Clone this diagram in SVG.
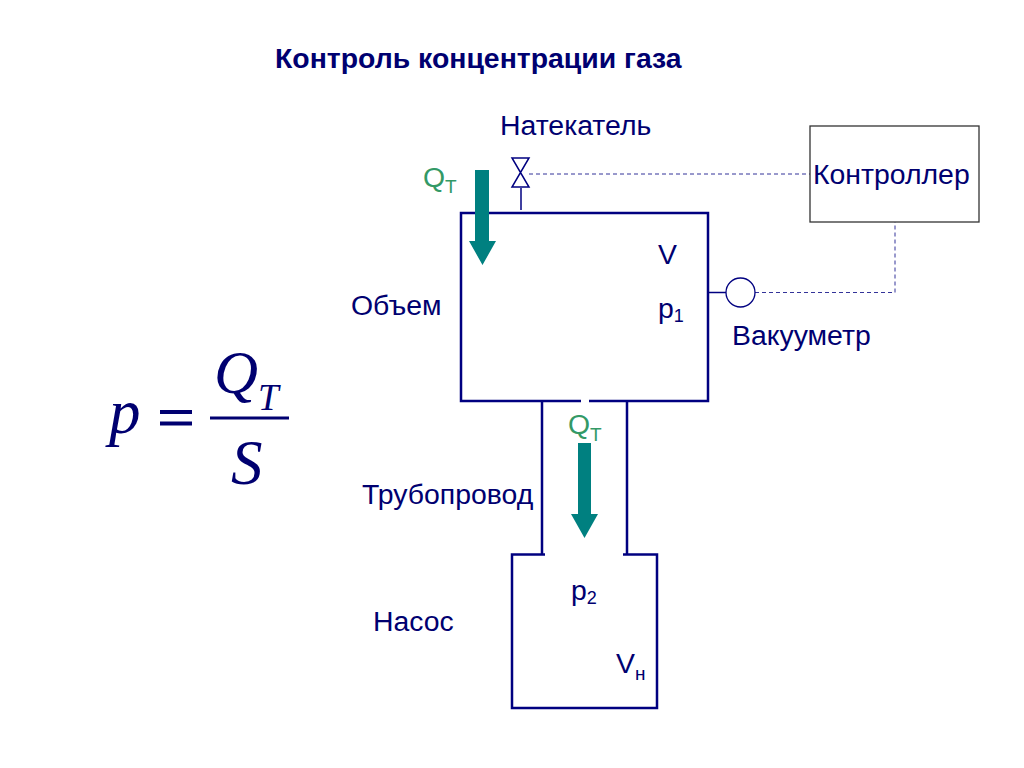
<svg xmlns="http://www.w3.org/2000/svg" width="1024" height="768" viewBox="0 0 1024 768">
<style>
text{font-family:"Liberation Sans",Arial,sans-serif;fill:#000070;font-size:28.4px}
.g{fill:#339966}
.s{font-size:18px}
.q{font-size:19px}
.m{font-family:"Liberation Serif","Times New Roman",serif;font-style:italic}
.w{fill:none;stroke:#000080;stroke-width:2.5}
.t{fill:none;stroke:#000080;stroke-width:1.5}
.d{fill:none;stroke:#333399;stroke-width:1;stroke-dasharray:4 3}
.a{fill:#008080}
</style>
<rect width="1024" height="768" fill="#fff"/>
<text id="title" x="275" y="67.500" style="font-weight:bold">Контроль концентрации газа</text>
<g id="connectors">
<path class="d" d="M529 174H810"/>
<path class="d" d="M755 292.500H895V222"/>
<path class="t" d="M521 188V210"/>
<path class="t" d="M709 292.500H726"/>
</g>
<g id="volume">
<path class="w" d="M581 401H461V213H708V401H589"/>
<text x="351" y="314.500">Объем</text>
<text x="658" y="263.500">V</text>
<text x="658" y="317.500">p<tspan class="s" dy="4">1</tspan></text>
</g>
<g id="pipe">
<path class="w" d="M542 401V554M627 401V554"/>
<text x="362" y="503.500">Трубопровод</text>
</g>
<g id="pump">
<path class="w" d="M545 554.500H512V708H657V554.500H623"/>
<text x="373" y="630.500">Насос</text>
<text x="571" y="599.500">p<tspan class="s" dy="4">2</tspan></text>
<text x="616" y="672.500">V<tspan class="q" dy="7.500">н</tspan></text>
</g>
<g id="valve">
<path class="t" d="M512 158H529L512 187H529Z" fill="#fff"/>
<text x="500" y="134.500">Натекатель</text>
</g>
<g id="controller">
<rect x="810" y="126" width="169" height="96" fill="#fff" stroke="#333" stroke-width="1.300"/>
<text x="813" y="183.500">Контроллер</text>
</g>
<g id="gauge">
<circle cx="740.500" cy="292.500" r="14.500" fill="#fff" stroke="#000080" stroke-width="1.300"/>
<text x="732" y="344.500">Вакууметр</text>
</g>
<g id="flow-in">
<polygon class="a" points="475,170 489,170 489,241 496,241 482.500,265 469,241 475,241"/>
<text class="g" x="423" y="187">Q<tspan class="q" dy="6">Т</tspan></text>
</g>
<g id="flow-out">
<polygon class="a" points="578,443 591,443 591,514 598,514 584.500,538 571,514 578,514"/>
<text class="g" x="568" y="434">Q<tspan class="q" dy="7">Т</tspan></text>
</g>
<g id="formula">
<text class="m" x="109" y="433" style="font-size:63px">p</text>
<rect x="160" y="410" width="32" height="4" fill="#000070"/>
<rect x="160" y="421.500" width="32" height="4" fill="#000070"/>
<text class="m" x="214" y="393" style="font-size:61px">Q</text>
<text class="m" x="258" y="410" style="font-size:37px">T</text>
<rect x="210" y="416.500" width="79" height="3" fill="#000070"/>
<text class="m" x="231" y="484" style="font-size:63px">S</text>
</g>
</svg>
